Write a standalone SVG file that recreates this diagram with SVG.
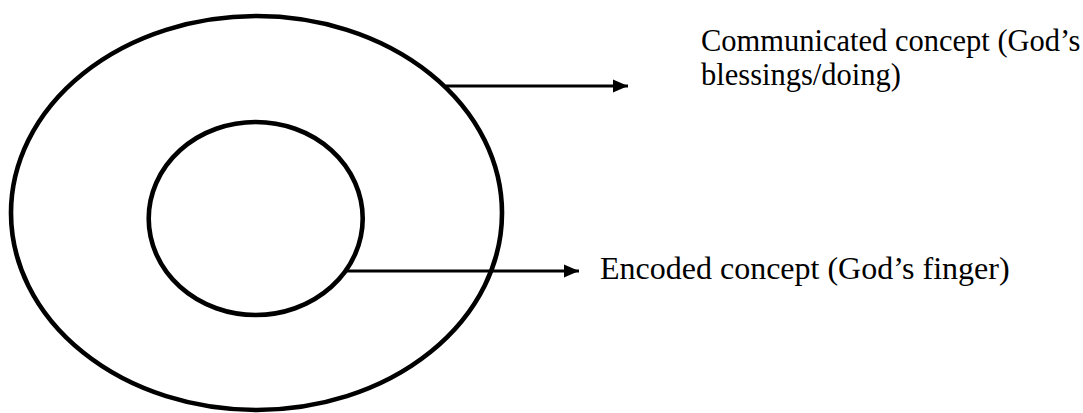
<svg xmlns="http://www.w3.org/2000/svg" width="1083" height="413" viewBox="0 0 1083 413">
  <style>
    .ring { fill: none; stroke: #000; stroke-width: 4.6; }
    .link { fill: none; stroke: #000; stroke-width: 3; }
    .label { font-family: "Liberation Serif", "Times New Roman", serif; font-size: 30.5px; fill: #000; }
  </style>
  <defs>
    <marker id="head" markerUnits="userSpaceOnUse" markerWidth="16" markerHeight="14" refX="15" refY="7" orient="auto">
      <path d="M0,0.5 L15,7 L0,13.5 Z" fill="#000"/>
    </marker>
  </defs>
  <rect width="1083" height="413" fill="#fff"/>

  <!-- outer ring: communicated concept -->
  <g id="outer">
    <ellipse class="ring" cx="256.5" cy="213" rx="245.5" ry="197"/>
  </g>

  <!-- inner ring: encoded concept -->
  <g id="inner">
    <ellipse class="ring" cx="255.7" cy="218.5" rx="107" ry="96.5"/>
  </g>

  <!-- pointers from the rings to their labels -->
  <g id="connectors">
    <line class="link" x1="446" y1="86" x2="628" y2="86" marker-end="url(#head)"/>
    <line class="link" x1="347" y1="271" x2="579" y2="271" marker-end="url(#head)"/>
  </g>

  <g id="label-communicated">
    <text class="label" x="701" y="51">Communicated concept (God’s</text>
    <text class="label" x="701" y="85">blessings/doing)</text>
  </g>

  <g id="label-encoded">
    <text class="label" x="600" y="279" style="font-size:32px">Encoded concept (God’s finger)</text>
  </g>
</svg>
